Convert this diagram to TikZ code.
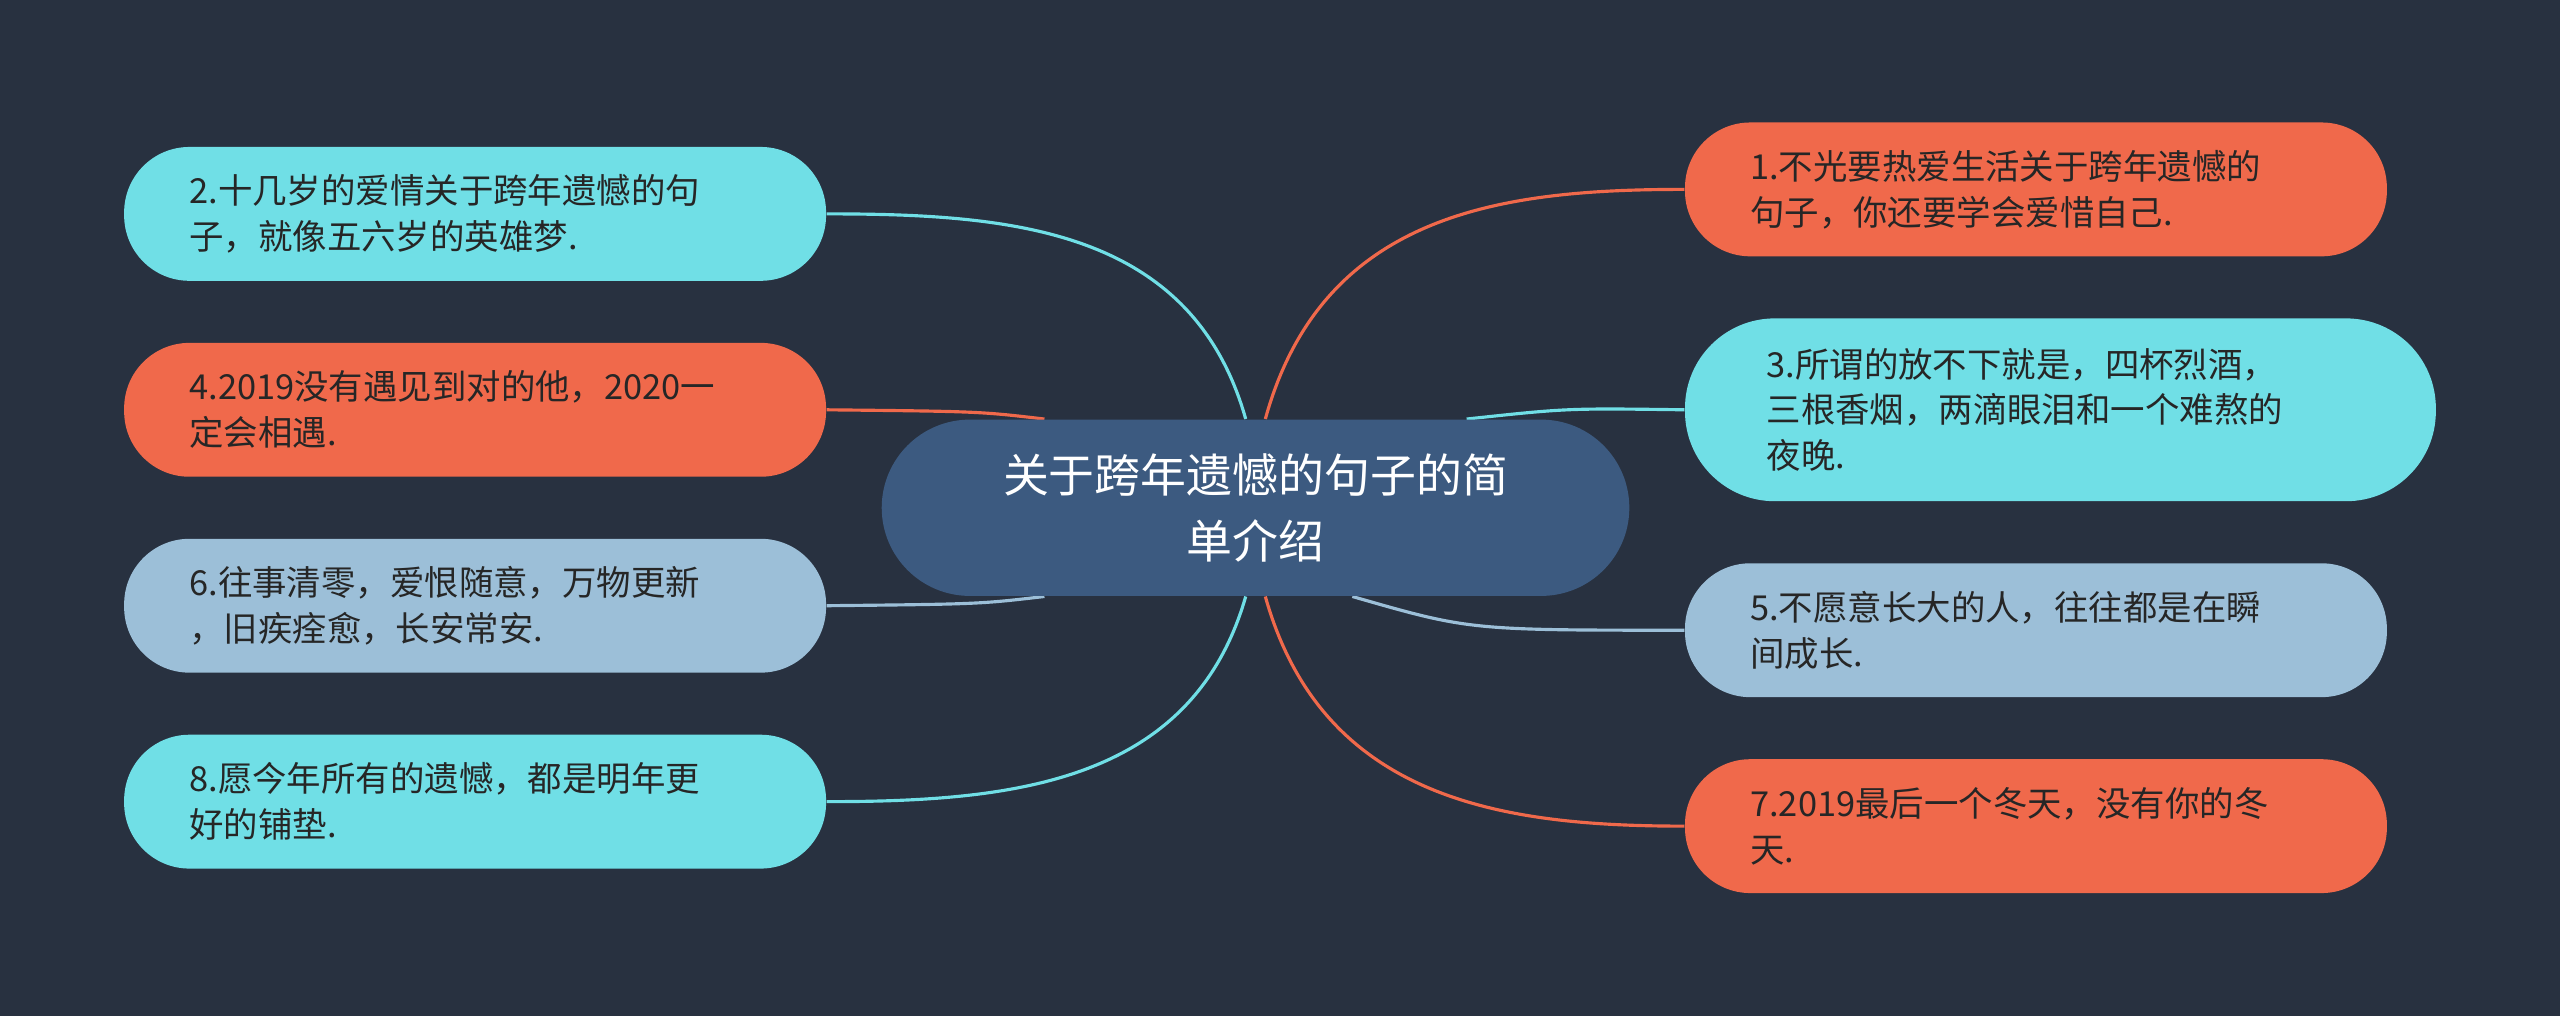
\documentclass[tikz,border=0pt]{standalone}
\usepackage{fontspec}
\setmainfont{Noto Sans CJK SC}
\XeTeXlinebreaklocale "zh"
\XeTeXlinebreakskip=0pt
\usetikzlibrary{positioning,calc,backgrounds}
\definecolor{bgdark}{HTML}{283140}
\definecolor{rootblue}{HTML}{3C5A80}
\definecolor{topcyan}{HTML}{70DFE6}
\definecolor{toporange}{HTML}{F0694B}
\definecolor{topgrey}{HTML}{9CBFD8}
\tikzset{
  topic/.style={rounded corners=0.8cm, minimum width=8.6cm, minimum height=1.64cm,
    text width=7cm, align=left, inner xsep=0.8cm, font=\fontsize{12pt}{16pt}\selectfont,
    text=black!85},
  link/.style={line width=1.1pt}
}
\begin{document}
\begin{tikzpicture}[x=0.02cm,y=-0.02cm]
  \begin{scope}[on background layer]
    \fill[bgdark] (0,0) rectangle (1568,622);
  \end{scope}
  \useasboundingbox (0,0) rectangle (1568,622);
  \node[fill=rootblue, rounded corners=1.08cm, minimum width=9.16cm, minimum height=2.16cm,
    text width=7.4cm, align=center, text=white, font=\fontsize{16pt}{23pt}\selectfont]
    (root) at (769,311) {关于跨年遗憾的句子的简\\单介绍};

  \node[topic, fill=topcyan] (l1) at (291,131) {2.十几岁的爱情关于跨年遗憾的句\\子，就像五六岁的英雄梦.};
  \node[topic, fill=toporange] (l2) at (291,251) {4.2019没有遇见到对的他，2020一\\定会相遇.};
  \node[topic, fill=topgrey] (l3) at (291,371) {6.往事清零，爱恨随意，万物更新\\，旧疾痊愈，长安常安.};
  \node[topic, fill=topcyan] (l4) at (291,491) {8.愿今年所有的遗憾，都是明年更\\好的铺垫.};

  \node[topic, fill=toporange] (r1) at (1247,116) {1.不光要热爱生活关于跨年遗憾的\\句子，你还要学会爱惜自己.};
  \node[topic, fill=topcyan, minimum width=9.2cm, minimum height=2.24cm, rounded corners=1.1cm,
    text width=7.2cm, inner xsep=1cm] (r2) at (1262,251) {3.所谓的放不下就是，四杯烈酒，\\三根香烟，两滴眼泪和一个难熬的\\夜晚.};
  \node[topic, fill=topgrey] (r3) at (1247,386) {5.不愿意长大的人，往往都是在瞬\\间成长.};
  \node[topic, fill=toporange] (r4) at (1247,506) {7.2019最后一个冬天，没有你的冬\\天.};

  \begin{scope}[on background layer]
    \draw[link, topcyan] ($(root.north)+(-6,0)$) .. controls (730,140) and (620,131) .. (l1.east);
    \draw[link, toporange] ($(root.north west)+(100,0)$) .. controls (600,252) .. (l2.east);
    \draw[link, topgrey] ($(root.south west)+(100,0)$) .. controls (600,370) .. (l3.east);
    \draw[link, topcyan] ($(root.south)+(-6,0)$) .. controls (730,480) and (620,491) .. (l4.east);
    \draw[link, toporange] ($(root.north)+(6,0)$) .. controls (810,130) and (920,116) .. (r1.west);
    \draw[link, topcyan] ($(root.north east)+(-100,0)$) .. controls (960,250) .. (r2.west);
    \draw[link, topgrey] ($(root.south east)+(-170,0)$) .. controls (900,386) .. (r3.west);
    \draw[link, toporange] ($(root.south)+(6,0)$) .. controls (810,490) and (920,506) .. (r4.west);
  \end{scope}
\end{tikzpicture}
\end{document}
